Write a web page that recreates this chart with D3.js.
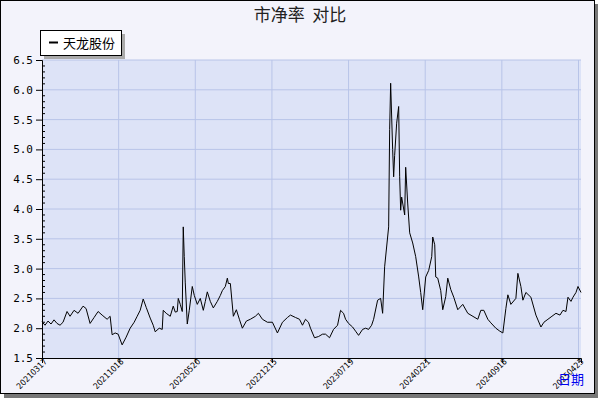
<!DOCTYPE html><html><head><meta charset="utf-8"><script src="https://cdn.jsdelivr.net/npm/d3@7"></script>
<style>body{margin:0;background:#fff}</style></head><body><svg id="c" width="600" height="400"></svg>
<script>
const seriesName="天龙股份";
const days=[0,6,12,18,24,30,36,42,50,56,64,72,82,88,96,104,112,120,130,136,140,146,152,160,168,176,184,190,196,202,208,216,222,226,234,240,242,248,256,262,266,270,272,276,280,282,284,286,290,294,300,304,310,316,322,326,330,336,342,350,356,360,366,370,372,376,382,388,394,400,408,416,426,432,440,450,460,470,480,490,496,506,514,520,526,532,536,544,552,560,566,574,582,590,596,602,606,612,620,626,632,640,646,652,658,662,670,676,680,684,692,694,696,700,702,704,708,712,714,716,718,724,726,730,734,740,746,752,756,760,766,772,778,780,784,786,790,796,800,806,810,816,822,830,840,850,870,876,882,890,896,906,914,920,926,930,936,946,950,956,960,966,976,986,996,1002,1010,1018,1026,1034,1040,1046,1050,1056,1060,1066,1070,1076];
const pb=[2.11,2.05,2.12,2.07,2.14,2.08,2.05,2.1,2.28,2.2,2.3,2.25,2.37,2.33,2.08,2.18,2.28,2.22,2.15,2.2,1.89,1.92,1.9,1.72,1.85,2.0,2.1,2.2,2.3,2.49,2.35,2.17,2.05,1.94,2.0,1.98,2.3,2.25,2.2,2.37,2.27,2.28,2.5,2.4,2.28,3.7,3.2,2.76,2.07,2.3,2.7,2.55,2.4,2.5,2.3,2.45,2.61,2.45,2.34,2.45,2.55,2.63,2.7,2.84,2.75,2.75,2.2,2.31,2.15,2.0,2.12,2.15,2.2,2.25,2.15,2.1,2.1,1.92,2.1,2.18,2.22,2.18,2.15,2.05,2.15,2.1,2.0,1.84,1.86,1.9,1.9,1.84,1.98,2.05,2.3,2.25,2.15,2.08,2.02,1.95,1.88,1.98,2.0,1.98,2.05,2.15,2.47,2.5,2.25,3.03,3.7,5.33,6.11,5.0,4.54,4.9,5.44,5.72,4.54,3.98,4.2,3.9,4.7,4.1,3.6,3.43,3.2,2.86,2.6,2.31,2.86,2.97,3.2,3.53,3.4,2.86,2.84,2.63,2.31,2.53,2.84,2.65,2.52,2.31,2.4,2.25,2.15,2.3,2.3,2.15,2.09,2.0,1.95,1.92,2.33,2.56,2.4,2.5,2.92,2.7,2.47,2.6,2.52,2.22,2.02,2.1,2.15,2.2,2.25,2.22,2.3,2.28,2.52,2.45,2.52,2.6,2.7,2.6];
const tickDays=[0,153,306,459,612,765,918,1071];
const tickLabels=["20210317","20211018","20220520","20221215","20230719","20240221","20240918","20250423"];
const yTicks=[1.5,2.0,2.5,3.0,3.5,4.0,4.5,5.0,5.5,6.0,6.5];

const svg=d3.select("#c");
const n=Math.min(days.length,pb.length);
const data=d3.range(n).map(i=>({d:days[i],v:pb[i]}));
const L=42,R=581,T=60,B=358;
svg.append("rect").attr("x",4).attr("y",4).attr("width",594).attr("height",394).attr("fill","#777");
svg.append("rect").attr("x",0.5).attr("y",0.5).attr("width",594).attr("height",393).attr("fill","#f3f3fb").attr("stroke","#000");
const x=d3.scaleLinear().domain([0,1076]).range([L,R]);
const y=d3.scaleLinear().domain([1.5,6.5]).range([B,T]);
svg.append("rect").attr("x",L).attr("y",T).attr("width",R-L).attr("height",B-T).attr("fill","#dde3f7");
const g=svg.append("g");
g.selectAll(".hg").data(yTicks.slice(1)).join("line").attr("x1",L).attr("x2",R).attr("y1",d=>y(d)).attr("y2",d=>y(d)).attr("stroke","#b8c4e8");
g.selectAll(".vg").data(tickDays.slice(1)).join("line").attr("x1",d=>x(d)).attr("x2",d=>x(d)).attr("y1",T).attr("y2",B).attr("stroke","#b8c4e8");
const ya=d3.axisLeft(y).tickValues(yTicks).tickFormat(d3.format(".1f")).tickSize(6);
const yg=svg.append("g").attr("transform",`translate(${L},0)`).call(ya);
yg.selectAll("text").attr("font-family","DejaVu Sans Mono").attr("font-size",11).attr("fill","#000");
const minor=d3.range(1.6,6.5,0.1).filter(v=>Math.abs(v*2-Math.round(v*2))>0.01);
svg.selectAll(".mt").data(minor).join("line").attr("x1",L).attr("x2",L+3).attr("y1",d=>y(d)).attr("y2",d=>y(d)).attr("stroke","#000");
const xa=d3.axisBottom(x).tickValues(tickDays).tickFormat((d,i)=>tickLabels[i]).tickSize(5);
const xg=svg.append("g").attr("transform",`translate(0,${B})`).call(xa);
xg.selectAll("text").attr("font-family","DejaVu Sans Condensed").attr("font-size",8.5).attr("fill","#000")
 .attr("text-anchor","end").attr("transform","translate(3,2) rotate(-45)").attr("dy","0.35em").attr("dx","0").attr("y",0);
xg.select(".domain").attr("stroke","#000");
yg.select(".domain").attr("stroke","#000");
svg.append("path").datum(data).attr("d",d3.line().x(d=>x(d.d)).y(d=>y(d.v))).attr("fill","none").attr("stroke","#000").attr("stroke-width",1);
svg.append("text").attr("x",300).attr("y",21).attr("text-anchor","middle").attr("font-family","Noto Sans CJK SC").attr("font-size",17).attr("fill","#222").style("white-space","pre").text("市净率  对比");
svg.append("rect").attr("x",44).attr("y",34).attr("width",81).attr("height",25).attr("fill","#aaa");
svg.append("rect").attr("x",40.5).attr("y",30.5).attr("width",81).attr("height",25).attr("fill","#fff").attr("stroke","#000");
svg.append("line").attr("x1",49).attr("x2",58).attr("y1",42.5).attr("y2",42.5).attr("stroke","#000").attr("stroke-width",2);
svg.append("text").attr("x",63).attr("y",48).attr("font-family","Noto Sans CJK SC").attr("font-size",13).text(seriesName);
svg.append("text").attr("x",584).attr("y",384).attr("text-anchor","end").attr("font-family","Noto Sans CJK SC").attr("font-size",13).attr("fill","#0000ee").text("日期");
</script></body></html>
